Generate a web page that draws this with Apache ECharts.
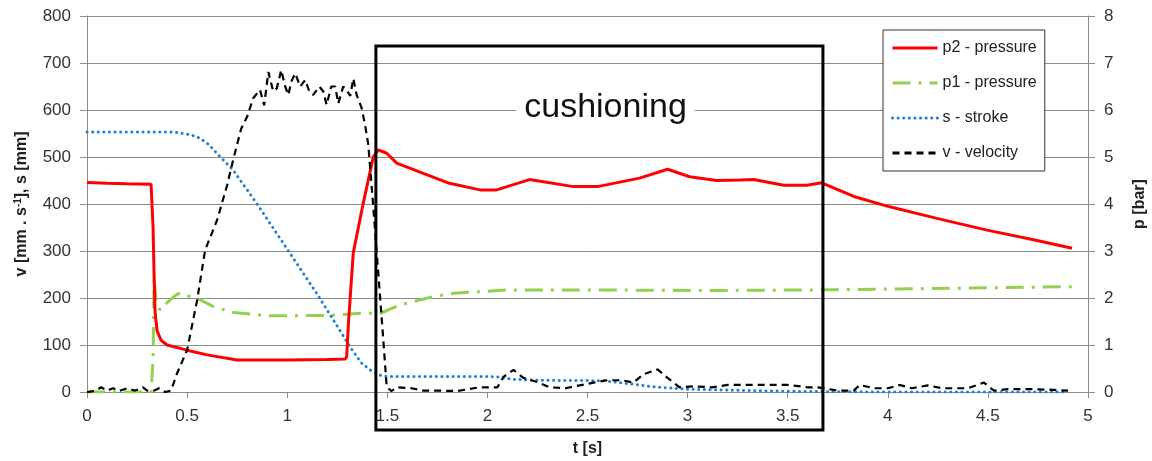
<!DOCTYPE html>
<html>
<head>
<meta charset="utf-8">
<script src="https://cdn.jsdelivr.net/npm/echarts@6/dist/echarts.min.js"></script>
<style>
  html, body { margin: 0; padding: 0; background: #fff; }
  #chart { width: 1152px; height: 461px; }
</style>
</head>
<body>
<div id="chart"></div>
<script>
// p2 - pressure [bar]
var p2Time = [0, 0.1, 0.2, 0.32, 0.33, 0.335, 0.34, 0.35, 0.37, 0.4, 0.5, 0.6, 0.75, 1.0, 1.2, 1.29, 1.297, 1.306, 1.33, 1.38, 1.43, 1.455, 1.497, 1.547, 1.68, 1.81, 1.963, 2.046, 2.21, 2.43, 2.55, 2.76, 2.9, 3.01, 3.145, 3.26, 3.33, 3.48, 3.595, 3.67, 3.83, 4.01, 4.24, 4.49, 4.74, 4.92];
var p2Values = [4.46, 4.44, 4.43, 4.42, 3.5, 2.5, 1.7, 1.3, 1.1, 1.0, 0.89, 0.79, 0.68, 0.68, 0.69, 0.7, 0.75, 1.47, 2.96, 4.02, 5.0, 5.15, 5.08, 4.87, 4.65, 4.44, 4.3, 4.3, 4.52, 4.37, 4.37, 4.55, 4.74, 4.58, 4.5, 4.51, 4.52, 4.4, 4.4, 4.45, 4.16, 3.94, 3.7, 3.45, 3.23, 3.06];

// p1 - pressure [bar]
var p1Time = [0, 0.2, 0.32, 0.33, 0.335, 0.345, 0.365, 0.398, 0.44, 0.465, 0.49, 0.556, 0.63, 0.73, 0.914, 1.214, 1.38, 1.463, 1.563, 1.73, 1.83, 2.1, 2.6, 3.1, 3.6, 4.2, 4.92];
var p1Values = [0, 0, 0, 0.7, 2.45, 1.96, 1.74, 1.89, 2.05, 2.11, 2.06, 1.98, 1.82, 1.69, 1.62, 1.63, 1.68, 1.67, 1.85, 2.03, 2.1, 2.17, 2.17, 2.16, 2.17, 2.2, 2.24];

// s - stroke [mm]
var sTime = [0, 0.43, 0.48, 0.52, 0.564, 0.61, 0.648, 0.73, 0.848, 1.014, 1.147, 1.25, 1.314, 1.37, 1.414, 1.46, 1.497, 2.0, 2.06, 2.12, 2.25, 2.58, 2.7, 2.83, 3.0, 3.3, 3.6, 4.0, 4.9];
var sValues = [553, 553, 550, 547, 540, 526, 508, 472, 401, 295, 210, 140, 96, 62, 47, 36, 33, 33, 32, 27, 25, 24, 18, 11, 6, 3, 1, 0, 0];

// v - velocity [mm/s]
var vTime = [0, 0.04, 0.07, 0.1, 0.13, 0.16, 0.2, 0.24, 0.28, 0.3, 0.33, 0.36, 0.39, 0.42, 0.45, 0.5, 0.55, 0.59, 0.65, 0.7, 0.73, 0.77, 0.8, 0.83, 0.864, 0.885, 0.906, 0.93, 0.948, 0.97, 0.99, 1.006, 1.02, 1.04, 1.065, 1.09, 1.11, 1.13, 1.16, 1.18, 1.197, 1.22, 1.24, 1.255, 1.28, 1.3, 1.315, 1.33, 1.347, 1.372, 1.389, 1.405, 1.43, 1.455, 1.48, 1.497, 1.52, 1.55, 1.62, 1.68, 1.74, 1.85, 1.96, 2.05, 2.08, 2.13, 2.18, 2.25, 2.31, 2.39, 2.46, 2.53, 2.6, 2.67, 2.73, 2.78, 2.85, 2.9, 2.96, 3.03, 3.12, 3.2, 3.3, 3.4, 3.5, 3.6, 3.65, 3.75, 3.83, 3.86, 3.93, 4.0, 4.06, 4.12, 4.2, 4.27, 4.4, 4.48, 4.53, 4.6, 4.72, 4.8, 4.9];
var vValues = [0, 2, 10, 3, 8, 2, 8, 3, 10, 3, 2, 8, 0, 3, 40, 89, 195, 302, 366, 440, 494, 560, 586, 625, 643, 610, 681, 640, 646, 685, 650, 632, 660, 678, 650, 664, 640, 632, 650, 640, 611, 650, 650, 614, 650, 640, 630, 667, 632, 604, 568, 526, 394, 253, 111, 11, 2, 10, 8, 3, 3, 2, 10, 10, 32, 47, 30, 21, 10, 8, 14, 20, 25, 25, 20, 38, 48, 30, 10, 12, 10, 15, 15, 15, 15, 10, 10, 3, 3, 15, 8, 8, 15, 8, 14, 8, 8, 20, 3, 6, 6, 5, 3];

// annotation: cushioning phase [t start, t end, top value, bottom value] on left axis
var cushionBox = [1.443, 3.676, 736, -81];
var cushionLabel = { text: 'cushioning', t: 2.59, v: 604 };

function pairs(ts, vs) {
    var out = [];
    for (var i = 0; i < ts.length; i++) out.push([ts[i], vs[i]]);
    return out;
}

var chart = echarts.init(document.getElementById('chart'));
var font = 'Liberation Sans';
var axisGray = '#8c8c8c';

var option = {
    animation: false,
    backgroundColor: '#fff',
    textStyle: { fontFamily: font },
    grid: { left: 87, right: 64, top: 16, bottom: 69, containLabel: false, outerBoundsMode: 'none' },
    legend: {
        orient: 'vertical',
        left: 883,
        top: 30,
        width: 172,
        padding: [10, 8, 10, 8],
        itemWidth: 45,
        itemHeight: 10,
        itemGap: 19,
        backgroundColor: '#fff',
        borderColor: '#333',
        borderWidth: 1,
        itemStyle: { opacity: 0 },
        lineStyle: { width: 3 },
        textStyle: { fontFamily: font, fontSize: 16, color: '#222' },
        data: ['p2 - pressure', 'p1 - pressure', 's - stroke', 'v - velocity']
    },
    xAxis: {
        type: 'value',
        min: 0, max: 5, interval: 0.5,
        name: 't [s]',
        nameLocation: 'middle',
        nameGap: 49,
        nameTextStyle: { fontFamily: font, fontSize: 16, fontWeight: 'bold', color: '#222' },
        axisLine: { show: true, lineStyle: { color: axisGray, width: 1 } },
        axisTick: { show: true, inside: false, length: 6, lineStyle: { color: axisGray } },
        axisLabel: { fontFamily: font, fontSize: 17, color: '#333', margin: 16 },
        splitLine: { show: false }
    },
    yAxis: [
        {
            type: 'value',
            min: 0, max: 800, interval: 100,
            name: '{a|v [mm . s}{s|-1}{a|], s [mm]}',
            nameLocation: 'middle',
            nameRotate: 90,
            nameGap: 56,
            nameTextStyle: {
                rich: {
                    a: { fontFamily: font, fontSize: 16, fontWeight: 'bold', color: '#222' },
                    s: { fontFamily: font, fontSize: 10, fontWeight: 'bold', color: '#222', verticalAlign: 'top', padding: [0, 0, 8, 0] }
                }
            },
            axisLine: { show: true, lineStyle: { color: axisGray, width: 1 } },
            axisTick: { show: true, inside: false, length: 7, lineStyle: { color: axisGray } },
            axisLabel: { fontFamily: font, fontSize: 17, color: '#333', margin: 16 },
            splitLine: { show: true, lineStyle: { color: axisGray, width: 1 } }
        },
        {
            type: 'value',
            min: 0, max: 8, interval: 1,
            name: 'p [bar]',
            nameLocation: 'middle',
            nameRotate: 90,
            nameGap: 44,
            nameTextStyle: { fontFamily: font, fontSize: 16, fontWeight: 'bold', color: '#222' },
            axisLine: { show: true, lineStyle: { color: axisGray, width: 1 } },
            axisTick: { show: true, inside: false, length: 7, lineStyle: { color: axisGray } },
            axisLabel: { fontFamily: font, fontSize: 17, color: '#333', margin: 16 },
            splitLine: { show: false }
        }
    ],
    series: [
        {
            name: 'p2 - pressure', type: 'line', yAxisIndex: 1, z: 4,
            showSymbol: false, symbol: 'none',
            data: pairs(p2Time, p2Values),
            itemStyle: { color: '#ff0000' },
            lineStyle: { color: '#ff0000', width: 3 }
        },
        {
            name: 'p1 - pressure', type: 'line', yAxisIndex: 1, z: 3,
            showSymbol: false, symbol: 'none',
            data: pairs(p1Time, p1Values),
            itemStyle: { color: '#92d050' },
            lineStyle: { color: '#92d050', width: 3, type: [18, 8, 3, 8] }
        },
        {
            name: 's - stroke', type: 'line', yAxisIndex: 0, z: 3,
            showSymbol: false, symbol: 'none',
            data: pairs(sTime, sValues),
            itemStyle: { color: '#1f7fd0' },
            lineStyle: { color: '#1f7fd0', width: 3, type: [0.1, 5.5], cap: 'round' }
        },
        {
            name: 'v - velocity', type: 'line', yAxisIndex: 0, z: 5,
            showSymbol: false, symbol: 'none',
            data: pairs(vTime, vValues),
            itemStyle: { color: '#000' },
            lineStyle: { color: '#000', width: 2.2, type: [7, 5] }
        }
    ]
};
chart.setOption(option);

// cushioning frame and label, positioned through the axes
var tl = chart.convertToPixel({ xAxisIndex: 0, yAxisIndex: 0 }, [cushionBox[0], cushionBox[2]]);
var br = chart.convertToPixel({ xAxisIndex: 0, yAxisIndex: 0 }, [cushionBox[1], cushionBox[3]]);
var lp = chart.convertToPixel({ xAxisIndex: 0, yAxisIndex: 0 }, [cushionLabel.t, cushionLabel.v]);
chart.setOption({
    graphic: [
        {
            type: 'rect', z: 10,
            shape: { x: tl[0], y: tl[1], width: br[0] - tl[0], height: br[1] - tl[1] },
            style: { fill: 'none', stroke: '#000', lineWidth: 3 }
        },
        {
            type: 'text', z: 9,
            x: lp[0], y: lp[1],
            style: {
                text: cushionLabel.text,
                fontFamily: font, fontSize: 34, fill: '#111',
                align: 'center', verticalAlign: 'middle',
                backgroundColor: '#fff', padding: [2, 8]
            }
        }
    ]
});
</script>
</body>
</html>
